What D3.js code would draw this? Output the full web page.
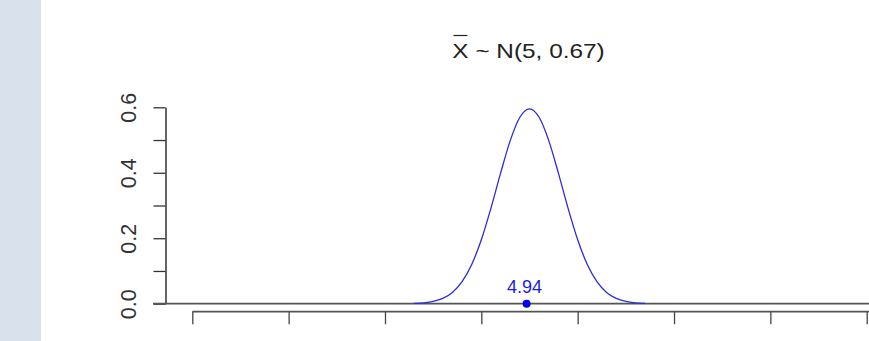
<!DOCTYPE html>
<html>
<head>
<meta charset="utf-8">
<script src="https://cdn.jsdelivr.net/npm/d3@7"></script>
<style>
  body { margin: 0; background: #fff; }
  svg { display: block; font-family: "Liberation Sans", Arial, sans-serif; }
</style>
</head>
<body>
<div id="chart"></div>
<script>
// sampling distribution of the mean
var mu = 5, sigma = 0.67, sampleMean = 4.94;
var curveX = [2.6, 2.8, 3.0, 3.2, 3.4, 3.6, 3.8, 4.0, 4.2, 4.4, 4.6, 4.8, 5.0,
              5.2, 5.4, 5.6, 5.8, 6.0, 6.2, 6.4, 6.6, 6.8, 7.0, 7.2, 7.4];
var curveY = [0.001, 0.0027, 0.0069, 0.0161, 0.0344, 0.0671, 0.1197, 0.1955, 0.2919, 0.3987, 0.4982, 0.5695, 0.5954,
              0.5695, 0.4982, 0.3987, 0.2919, 0.1955, 0.1197, 0.0671, 0.0344, 0.0161, 0.0069, 0.0027, 0.001];
var xTicks = [-2, 0, 2, 4, 6, 8, 10, 12];
var yTicks = [0, 0.1, 0.2, 0.3, 0.4, 0.5, 0.6];
var yLabels = ['0.0', '', '0.2', '', '0.4', '', '0.6'];

var width = 869, height = 341;

var svg = d3.select('#chart').append('svg')
    .attr('width', width)
    .attr('height', height);

// side panel of the app
svg.append('rect')
    .attr('x', 0).attr('y', 0)
    .attr('width', 41).attr('height', height)
    .style('fill', '#d9e1ec');

var x = d3.scaleLinear().domain([-2, 12]).range([192.3, 866.7]);
var y = d3.scaleLinear().domain([0, 0.6]).range([303.7, 107.3]);

// y axis, labels turned like R does
var yAxis = svg.append('g')
    .attr('transform', 'translate(165.5,0)')
    .call(d3.axisLeft(y).tickValues(yTicks).tickSize(12).tickSizeOuter(0)
        .tickFormat(function (d, i) { return yLabels[i]; }));
yAxis.select('.domain').style('stroke', '#111').style('stroke-width', 1.3);
yAxis.selectAll('.tick line').style('stroke', '#333').style('stroke-width', 1.3);
yAxis.selectAll('.tick text')
    .attr('x', null).attr('dy', null)
    .attr('transform', 'translate(-30,0) rotate(-90)')
    .attr('text-anchor', 'middle')
    .attr('dominant-baseline', 'auto')
    .style('font-size', '21.5px')
    .style('fill', '#333')
    .style('font-family', '"Liberation Sans", Arial, sans-serif');

// zero line
svg.append('line')
    .attr('x1', 153).attr('x2', width)
    .attr('y1', y(0)).attr('y2', y(0))
    .style('stroke', '#555')
    .style('stroke-width', 1.8);

// x axis below the plot (labels fall below the window)
var xAxis = svg.append('g')
    .attr('transform', 'translate(0,311.7)')
    .call(d3.axisBottom(x).tickValues(xTicks).tickSize(12.5).tickSizeOuter(0).tickPadding(17));
xAxis.select('.domain').attr('d', 'M' + x(-2) + ',0H' + width)
    .style('stroke', '#555').style('stroke-width', 1.8);
xAxis.selectAll('.tick line').style('stroke', '#444').style('stroke-width', 1.3);
xAxis.selectAll('.tick text')
    .style('font-size', '20px')
    .style('fill', '#aaa')
    .style('font-family', '"Liberation Sans", Arial, sans-serif');

// density curve
var line = d3.line()
    .x(function (d, i) { return x(curveX[i]); })
    .y(function (d) { return y(d); })
    .curve(d3.curveMonotoneX);

svg.append('path')
    .datum(curveY)
    .attr('d', line)
    .style('fill', 'none')
    .style('stroke', '#2b2bdc')
    .style('stroke-width', 1.3);

// observed mean
svg.append('circle')
    .attr('cx', x(sampleMean))
    .attr('cy', y(0))
    .attr('r', 4)
    .style('fill', '#0000ee');

svg.append('text')
    .attr('x', x(sampleMean) - 2)
    .attr('y', y(0) - 11)
    .attr('text-anchor', 'middle')
    .style('font-size', '18px')
    .style('fill', '#1a1ae6')
    .text(sampleMean.toFixed(2));

// title  Xbar ~ N(mu, sigma)
var title = svg.append('g')
    .attr('transform', 'translate(' + (x(mu) - 1) + ',57.5) scale(1.16,1)');
var tt = title.append('text')
    .attr('text-anchor', 'middle')
    .style('font-size', '21px')
    .style('fill', '#222');
tt.append('tspan').attr('class', 'xbar').text('X');
tt.append('tspan').text(' ~ N(' + mu + ', ' + sigma + ')');

var ext = tt.node().getExtentOfChar(0);
title.append('line')
    .attr('x1', ext.x + 1).attr('x2', ext.x + ext.width - 1)
    .attr('y1', -22).attr('y2', -22)
    .style('stroke', '#222')
    .style('stroke-width', 1.2);
</script>
</body>
</html>
